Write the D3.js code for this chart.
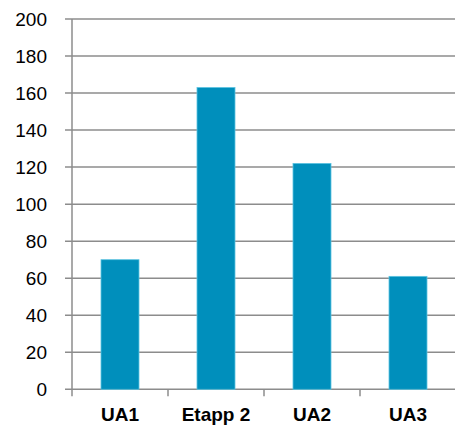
<!DOCTYPE html>
<html>
<head>
  <script src="https://d3js.org/d3.v7.min.js"></script>
  <style>
    body { margin: 0; background: #fff; }
    svg { display: block; font-family: "Liberation Sans", Arial, sans-serif; }
    .grid line { stroke: #8c8c8c; stroke-width: 1.5; }
    .bar { fill: #008fbc; stroke: #5cc3e0; stroke-width: 0.8; }
  </style>
</head>
<body>
  <svg width="455" height="425"></svg>
  <script>
    // categories and values
    var categories = ["UA1", "Etapp 2", "UA2", "UA3"];
    var values = [70, 163, 122, 61];
    var yTicks = [0, 20, 40, 60, 80, 100, 120, 140, 160, 180, 200];

    var svg = d3.select("svg");
    var plotLeft = 72, plotRight = 456, plotTop = 19, plotBottom = 389.3;

    var x = d3.scaleBand().domain(categories).range([plotLeft, plotRight]);
    var y = d3.scaleLinear().domain([0, 200]).range([plotBottom, plotTop]);

    // gridlines + left tick marks
    var grid = svg.append("g").attr("class", "grid");
    grid.selectAll(".gl")
      .data(yTicks)
      .enter().append("line")
      .attr("class", "gl")
      .attr("x1", plotLeft - 7)
      .attr("x2", 455)
      .attr("y1", function(d) { return y(d); })
      .attr("y2", function(d) { return y(d); });

    // y axis line
    grid.append("line")
      .attr("x1", plotLeft).attr("x2", plotLeft)
      .attr("y1", plotTop).attr("y2", plotBottom + 7);

    // x tick marks between bands
    grid.selectAll(".xt")
      .data(categories)
      .enter().append("line")
      .attr("class", "xt")
      .attr("x1", function(d) { return x(d) + x.step(); })
      .attr("x2", function(d) { return x(d) + x.step(); })
      .attr("y1", plotBottom)
      .attr("y2", plotBottom + 7);

    // y tick labels
    svg.append("g").selectAll("text")
      .data(yTicks)
      .enter().append("text")
      .attr("x", 47)
      .attr("y", function(d) { return y(d); })
      .attr("dy", "0.35em")
      .attr("text-anchor", "end")
      .style("font-size", "19px")
      .text(function(d) { return d; });

    // bars
    svg.selectAll(".bar")
      .data(values)
      .enter().append("rect")
      .attr("class", "bar")
      .attr("x", function(d, i) { return x(categories[i]) + x.bandwidth() / 2 - 19; })
      .attr("width", 38)
      .attr("y", function(d) { return y(d); })
      .attr("height", function(d) { return y(0) - y(d); });

    // x labels
    svg.append("g").selectAll("text")
      .data(categories)
      .enter().append("text")
      .attr("x", function(d) { return x(d) + x.bandwidth() / 2; })
      .attr("y", 421)
      .attr("text-anchor", "middle")
      .style("font-size", "19px")
      .style("font-weight", "bold")
      .text(function(d) { return d; });
  </script>
</body>
</html>
